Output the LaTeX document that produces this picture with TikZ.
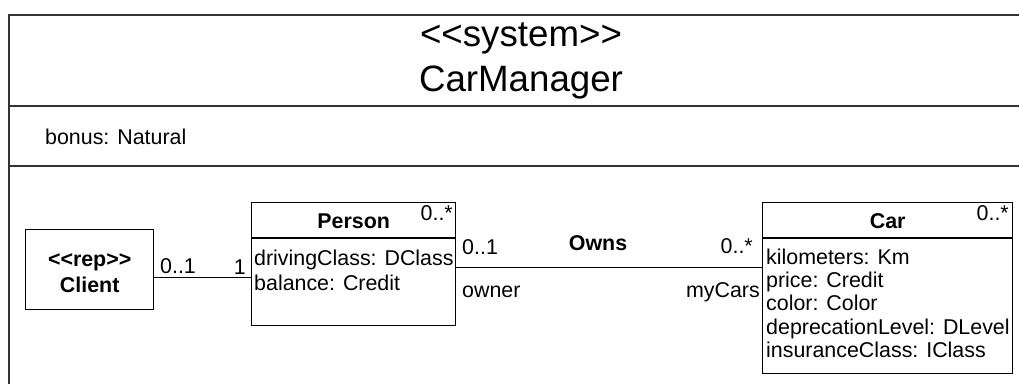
\documentclass[tikz,border=0pt]{standalone}
\usepackage{fontspec}
\setmainfont{Liberation Sans}
\begin{document}
\begin{tikzpicture}[x=1pt,y=-1pt,
  frameline/.style={line width=2pt, draw=black!80},
  umlbox/.style={draw, line width=1.3pt, rectangle, inner sep=0pt, anchor=north west},
  assoc/.style={line width=1pt},
  txt/.style={inner sep=0pt, font=\fontsize{21.4}{26}\selectfont},
  bold/.style={inner sep=0pt, font=\fontsize{21.4}{26}\selectfont\bfseries},
  title/.style={inner sep=0pt, font=\fontsize{36.7}{44}\selectfont}
]
\useasboundingbox (0,0) rectangle (1019,383);

% system frame with its compartments
\draw[frameline] (9,390) -- (9,15) -- (1030,15);
\draw[frameline] (9,106) -- (1030,106);
\draw[frameline] (9,166) -- (1030,166);
\node[title, anchor=base] (stereo) at (521,46) {{<}{<}system{>}{>}};
\node[title, anchor=base] (sysname) at (521,91) {CarManager};
\node[txt, anchor=base west] (bonus) at (45,144) {bonus: Natural};

% classes
\node[umlbox, minimum width=128pt, minimum height=80pt] (client) at (25,229) {};
\node[bold, anchor=base] (rep) at (client.center |- 0,266) {{<}{<}rep{>}{>}};
\node[bold, anchor=base] (clientname) at (client.center |- 0,292) {Client};

\node[umlbox, minimum width=204pt, minimum height=123pt] (person) at (251,202) {};
\draw[line width=1.3pt] ([yshift=-36pt]person.north west) -- ([yshift=-36pt]person.north east);
\node[bold, anchor=base] (personname) at (person.center |- 0,228) {Person};
\node[txt, anchor=base east] (personmult) at (453,220) {0..*};
\node[txt, anchor=base west] (pattr1) at (254,265) {drivingClass: DClass};
\node[txt, anchor=base west] (pattr2) at (254,290) {balance: Credit};

\node[umlbox, minimum width=250pt, minimum height=171pt] (car) at (762,202) {};
\draw[line width=1.3pt] ([yshift=-36pt]car.north west) -- ([yshift=-36pt]car.north east);
\node[bold, anchor=base] (carname) at (car.center |- 0,228) {Car};
\node[txt, anchor=base east] (carmult) at (1009,220) {0..*};
\node[txt, anchor=base west] (cattr1) at (766,264) {kilometers: Km};
\node[txt, anchor=base west] (cattr2) at (766,287.3) {price: Credit};
\node[txt, anchor=base west] (cattr3) at (766,310.6) {color: Color};
\node[txt, anchor=base west] (cattr4) at (766,334) {deprecationLevel: DLevel};
\node[txt, anchor=base west] (cattr5) at (766,357.3) {insuranceClass: IClass};

% associations
\coordinate (cpy) at (0,277);
\draw[assoc] (client.east |- cpy) -- (person.west |- cpy);
\node[txt, anchor=base west] (cm1) at (160,273) {0..1};
\node[txt, anchor=base east] (cm2) at (246,274) {1};

\coordinate (pcy) at (0,267);
\draw[assoc] (person.east |- pcy) -- (car.west |- pcy);
\node[txt, anchor=base west] (om1) at (462,254) {0..1};
\node[bold, anchor=base] (owns) at (598,250) {Owns};
\node[txt, anchor=base east] (om2) at (753,253) {0..*};
\node[txt, anchor=base west] (owner) at (462,297) {owner};
\node[txt, anchor=base east] (mycars) at (760,297) {myCars};
\end{tikzpicture}
\end{document}
